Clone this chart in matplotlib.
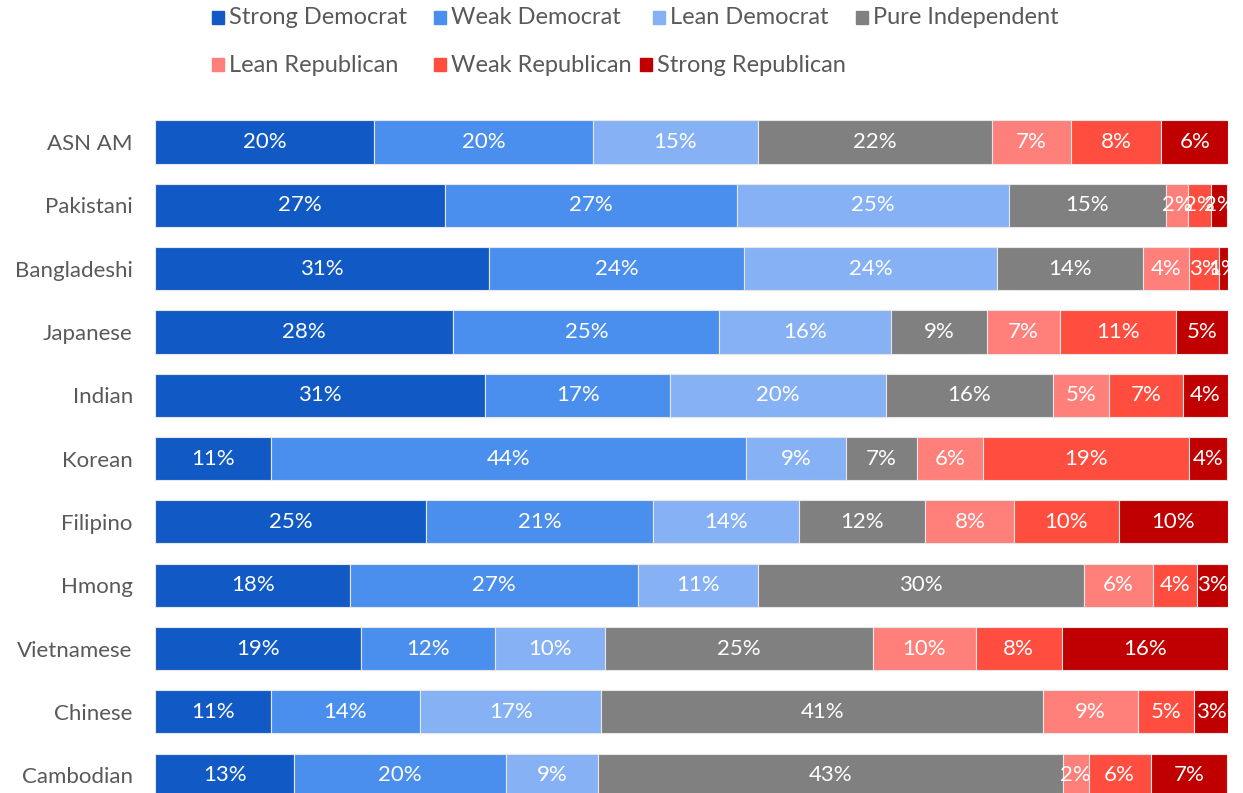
import matplotlib.pyplot as plt
from matplotlib.patches import Rectangle

plt.rcParams['font.family'] = ['Lato', 'DejaVu Sans']

groups = ["ASN AM", "Pakistani", "Bangladeshi", "Japanese", "Indian", "Korean",
          "Filipino", "Hmong", "Vietnamese", "Chinese", "Cambodian"]
series = ["Strong Democrat", "Weak Democrat", "Lean Democrat", "Pure Independent",
          "Lean Republican", "Weak Republican", "Strong Republican"]
colors = ["#115AC6", "#4B8FEE", "#86B1F5", "#808080", "#FF7F7A", "#FF4D40", "#C00000"]

strong_dem = [20.4, 27.0, 31.1, 27.8, 30.8, 10.8, 25.3, 18.2, 19.2, 10.8, 13.0]
weak_dem = [20.4, 27.2, 23.8, 24.8, 17.2, 44.3, 21.1, 26.8, 12.5, 13.9, 19.7]
lean_dem = [15.4, 25.4, 23.6, 16.0, 20.1, 9.3, 13.6, 11.2, 10.2, 16.9, 8.6]
pure_ind = [21.8, 14.6, 13.6, 8.9, 15.6, 6.6, 11.8, 30.4, 25.0, 41.2, 43.3]
lean_rep = [7.4, 2.1, 4.3, 6.8, 5.2, 6.2, 8.3, 6.4, 9.6, 8.8, 2.4]
weak_rep = [8.4, 2.1, 2.8, 10.9, 6.9, 19.2, 9.7, 4.1, 8.0, 5.2, 5.8]
strong_rep = [6.2, 1.5, 0.8, 4.8, 4.2, 3.5, 10.2, 2.9, 15.6, 3.3, 7.1]

data = [strong_dem, weak_dem, lean_dem, pure_ind, lean_rep, weak_rep, strong_rep]

fig = plt.figure(figsize=(12.43, 7.93), dpi=100)
ax = fig.add_axes([155 / 1243, 0, 1073 / 1243, 693 / 793])

y = list(range(len(groups)))
left = [0.0] * len(groups)
for vals, col in zip(data, colors):
    bars = ax.barh(y, vals, left=left, height=0.68, color=col,
                   edgecolor="#e6e6e6", linewidth=0.8)
    for b, v in zip(bars, vals):
        ax.text(b.get_x() + b.get_width() / 2, b.get_y() + b.get_height() / 2,
                f"{round(v)}%", ha="center", va="center", color="white", fontsize=16)
    left = [l + v for l, v in zip(left, vals)]

ax.set_xlim(0, sum(c[0] for c in data))
ax.set_ylim(10.28, -0.663)
ax.set_yticks(y)
ax.set_yticklabels(groups, fontsize=16, color="#595959")
ax.tick_params(axis="y", length=0, pad=16)
ax.set_xticks([])
for s in ax.spines.values():
    s.set_visible(False)

# legend laid out as in the reference (flowing rows)
legend_pos = [(212, 18), (434, 18), (653, 18), (856, 18),
              (212, 65), (434, 65), (640, 65)]
for (px, py), name, col in zip(legend_pos, series, colors):
    fig.patches.append(Rectangle((px / 1243, 1 - (py + 6) / 793), 12 / 1243, 13 / 793,
                                 transform=fig.transFigure, color=col))
    fig.text((px + 17) / 1243, 1 - py / 793, name, ha="left", va="center",
             fontsize=17, color="#595959")

fig.savefig("out.png", dpi=100)
